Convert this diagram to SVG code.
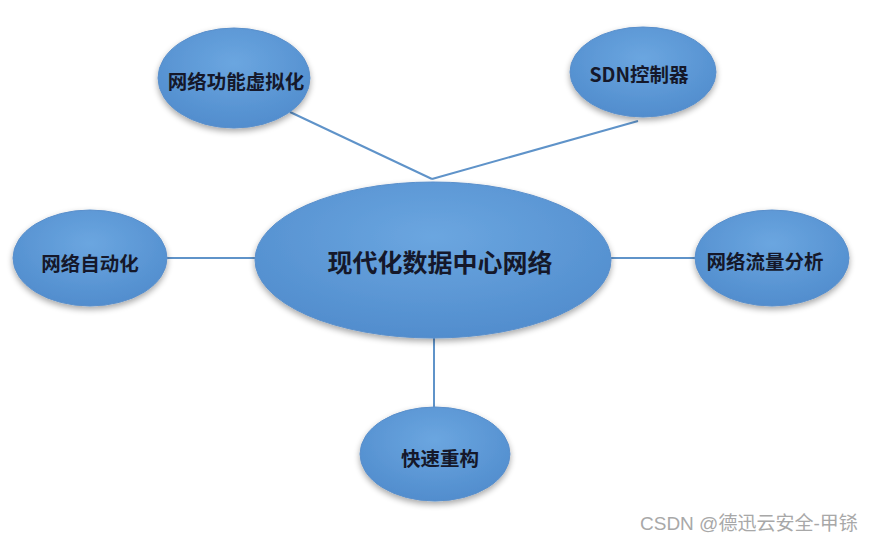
<svg xmlns="http://www.w3.org/2000/svg" width="872" height="546" viewBox="0 0 872 546">
<defs>
<radialGradient id="g" cx="0.5" cy="0.35" r="0.7">
<stop offset="0" stop-color="#6ba6e0"/>
<stop offset="1" stop-color="#4f8bcc"/>
</radialGradient>
<filter id="sh" x="-20%" y="-20%" width="140%" height="150%">
<feGaussianBlur in="SourceAlpha" stdDeviation="3"/>
<feOffset dx="0" dy="3" result="b"/>
<feComponentTransfer><feFuncA type="linear" slope="0.35"/></feComponentTransfer>
<feMerge><feMergeNode/><feMergeNode in="SourceGraphic"/></feMerge>
</filter>
</defs>
<style>
.n{fill:url(#g);stroke:#5a8fcb;stroke-width:1;filter:url(#sh)}
.t{font-family:"Noto Sans CJK SC","Liberation Sans",sans-serif;font-weight:bold;font-size:19.5px;fill:#15182a;text-anchor:middle;dominant-baseline:central}
.c{stroke:#5f93c9;stroke-width:2;fill:none}
</style>
<rect width="872" height="546" fill="#ffffff"/>
<g id="connectors">
<line class="c" x1="290" y1="112" x2="432" y2="179"/>
<line class="c" x1="638" y1="121" x2="432" y2="179"/>
<line class="c" x1="166" y1="258" x2="256" y2="258"/>
<line class="c" x1="611" y1="258" x2="696" y2="258"/>
<line class="c" x1="434" y1="338" x2="434" y2="408"/>
</g>
<g id="center">
<ellipse class="n" cx="433" cy="260" rx="178" ry="78"/>
<text class="t" x="440" y="261" style="font-size:25px">现代化数据中心网络</text>
</g>
<g id="nfv">
<ellipse class="n" cx="234" cy="78" rx="76" ry="50"/>
<text class="t" x="236" y="80">网络功能虚拟化</text>
</g>
<g id="sdn">
<ellipse class="n" cx="643" cy="72" rx="73" ry="45"/>
<text class="t" x="639" y="73">SDN控制器</text>
</g>
<g id="auto">
<ellipse class="n" cx="90" cy="258" rx="77" ry="48"/>
<text class="t" x="90" y="262">网络自动化</text>
</g>
<g id="traffic">
<ellipse class="n" cx="772" cy="258" rx="77" ry="48"/>
<text class="t" x="765" y="260">网络流量分析</text>
</g>
<g id="rebuild">
<ellipse class="n" cx="435" cy="454" rx="75" ry="47"/>
<text class="t" x="440" y="457">快速重构</text>
</g>
<text x="640" y="530" style="font-family:'Liberation Sans','Noto Sans CJK SC',sans-serif;font-size:19px;fill:#a8a8a8">CSDN @德迅云安全-甲铩</text>
</svg>
